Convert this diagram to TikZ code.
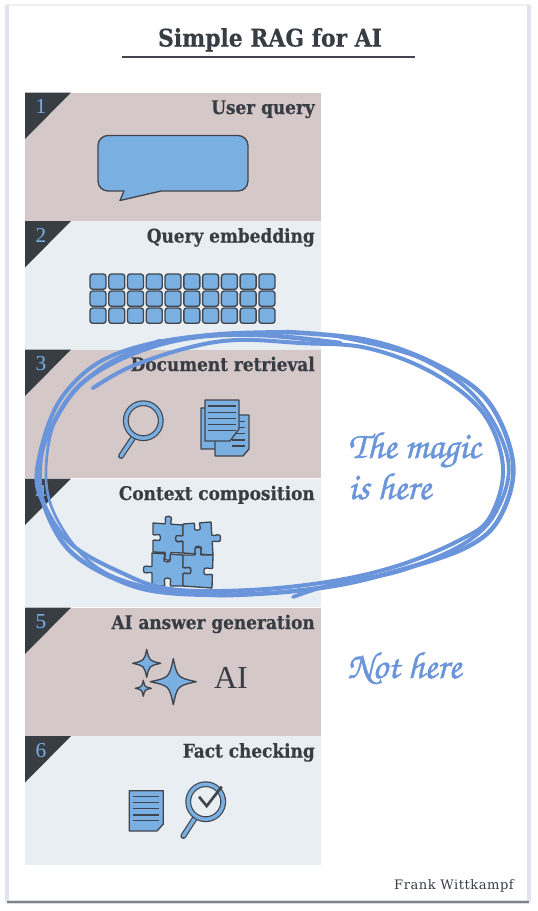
\documentclass[tikz,border=0pt]{standalone}
\usepackage{fontspec}
\usepackage{xcolor}
\usetikzlibrary{calc}
\setmainfont{Liberation Serif}
\newfontfamily\headfont[FakeStretch=0.9,FakeBold=0.5]{DejaVu Serif}
\newfontfamily\creditfont[LetterSpace=4]{DejaVu Serif}
\newfontfamily\handfont[FakeBold=1.2]{texgyrechorus-mediumitalic.otf}
\definecolor{ragdark}{HTML}{383D44}
\definecolor{ragline}{HTML}{41464E}
\definecolor{ragblue}{HTML}{7AAFE2}
\definecolor{ragpen}{HTML}{6A95DA}
\definecolor{ragbrown}{HTML}{D5C8C8}
\definecolor{raglight}{HTML}{E9EEF3}
\definecolor{ragframe}{HTML}{DADEE8}

\begin{document}
\begin{tikzpicture}[
      x=0.75pt, y=-0.75pt,
      panel/.style={minimum width=222pt, minimum height=96.5pt, inner sep=0pt, anchor=north west},
      heading/.style={anchor=base east, inner sep=0pt, text=ragdark,
                      font=\headfont\bfseries\fontsize{14.1}{16}\selectfont},
      number/.style={anchor=base, inner sep=0pt, text=ragblue, font=\fontsize{16}{18}\selectfont},
      icon/.style={draw=ragline, fill=ragblue, line width=1pt, line join=round},
      rule/.style={draw=ragline, line width=0.9pt},
      ring/.style={draw=ragline, double=ragblue, double distance=2.6pt, line width=0.9pt},
      pen/.style={draw=ragpen, line cap=round, line join=round},
      hand/.style={anchor=base west, inner sep=0pt, text=ragpen,
                   font=\handfont\fontsize{28.2}{34}\selectfont},
      knob/.style={to path={
        -- ($(\tikztostart)!.40!(\tikztotarget)$)
        .. controls ($(\tikztostart)!.46!(\tikztotarget)!{#1*.13}!90:(\tikztotarget)$)
           and ($(\tikztostart)!.30!(\tikztotarget)!{#1*.371}!90:(\tikztotarget)$)
        .. ($(\tikztostart)!.5!(\tikztotarget)!{#1*.52}!90:(\tikztotarget)$)
        .. controls ($(\tikztostart)!.70!(\tikztotarget)!{#1*.867}!90:(\tikztotarget)$)
           and ($(\tikztostart)!.54!(\tikztotarget)!{#1*.152}!90:(\tikztotarget)$)
        .. ($(\tikztostart)!.60!(\tikztotarget)$) -- (\tikztotarget)}},
    ]
    \useasboundingbox (0,0) rectangle (537,911);

    % Sheet
    \draw[ragframe!50, line width=2pt] (7,5) -- (529,5);
    \draw[ragframe!85, line width=3pt] (7,5) -- (7,902) (529,5) -- (529,902);
    \draw[ragframe, line width=3pt] (7,902) -- (529,902);
    \draw[ragline!55!ragbrown, line width=1pt] (7,902) -- (529,902);

    % Title
    \node[heading, anchor=base, font=\headfont\bfseries\fontsize{18.2}{20}\selectfont] (title) at (270,46.5) {Simple RAG for AI};
    \draw[ragline, line width=0.8pt] (122,57) -- (415,57);

    % Panels
    \foreach \idx/\ytop/\tone/\stage in {
        1/92.5/ragbrown/User query,
        2/221/raglight/Query embedding,
        3/349.5/ragbrown/Document retrieval,
        4/478.5/raglight/Context composition,
        5/607.5/ragbrown/AI answer generation,
        6/736/raglight/Fact checking} {
      \node[panel, fill=\tone] (panel\idx) at (25,\ytop) {};
      \fill[ragdark] (25,\ytop) -- ++(46,0) -- ++(-46,46.5) -- cycle;
      \node[number] (num\idx) at (41,\ytop+21) {\idx};
      \node[heading] (head\idx) at (315,\ytop+21.5) {\stage};
    }

    % Speech bubble
    \draw[icon, rounded corners=7.5pt] (98,135.5) -- (248,135.5) -- (248,191)
      [sharp corners] -- (161,191) -- (120,200.5) -- (124,191)
      [rounded corners=7.5pt] -- (98,191) -- cycle;

    % Embedding grid
    \foreach \row in {274,291,308} {
      \foreach \col in {0,...,9} {
        \draw[icon, rounded corners=2pt] (90+\col*18.77,\row) rectangle ++(16,15.3);
      }
    }

    % Magnifier and documents
    \draw[ring, line cap=round] (133,438) -- (121,456);
    \draw[ring] (143.3,420.7) circle (17.5);
    \draw[icon] (201,408) -- (231,408) -- (231,440) -- (224,449) -- (201,449) -- cycle;
    \draw[icon] (215,415) -- (249,415) -- (249,449) -- (243,456) -- (215,456) -- cycle;
    \foreach \y in {421.7,427.3,433.3,440,446} {
      \draw[rule] (232,\y) -- (245,\y);
    }
    \draw[icon] (205,400) -- (239,400) -- (239,429) -- (230,441) -- (205,441) -- cycle;
    \foreach \y in {406,412.7,418.3,424.3,430.7} {
      \draw[rule] (208,\y) -- (236,\y);
    }

    % Puzzle
    \draw[icon] (153,523) to[knob=1] (183,525) to[knob=-1] (183,553) to[knob=1] (153,552) to[knob=-1] cycle;
    \draw[icon] (183,524) to[knob=-1] (211,522) to[knob=1] (213,555) to[knob=-1] (183,553) to[knob=1] cycle;
    \draw[icon] (152,553) to[knob=-1] (183,555) to[knob=1] (183,586) to[knob=-1] (152,586) to[knob=1] cycle;
    \draw[icon] (183,555) to[knob=1] (213,555) to[knob=-1] (212,588) -- (183,586) to[knob=-1] cycle;

    % Sparkles
    \foreach \cx/\cy/\rad in {173.3/681.7/23, 146.7/663.3/14, 143.3/688.3/8} {
      \draw[icon] (\cx,\cy-\rad) .. controls (\cx+.18*\rad,\cy-.18*\rad) .. (\cx+\rad,\cy)
        .. controls (\cx+.18*\rad,\cy+.18*\rad) .. (\cx,\cy+\rad)
        .. controls (\cx-.18*\rad,\cy+.18*\rad) .. (\cx-\rad,\cy)
        .. controls (\cx-.18*\rad,\cy-.18*\rad) .. cycle;
    }
    \node[anchor=base, inner sep=0pt, text=ragdark, font=\fontsize{24}{28}\selectfont] (ailabel) at (231,688.5) {AI};

    % Fact check
    \draw[icon] (129.3,790.7) -- (163.3,790.7) -- (163.3,824) -- (157,831) -- (129.3,831) -- cycle;
    \foreach \y in {796.7,802.7,808.7,815,820.7} {
      \draw[rule] (133,\y) -- (159,\y);
    }
    \draw[ring, line cap=round] (195,818) -- (183.3,836);
    \draw[ring] (205.7,801.7) circle (17.5);
    \draw[ragline, line width=2pt] (199,796.7) -- (206.7,806) -- (221.7,786.7);

    % Scribble
    \draw[pen, line width=3pt] plot[smooth, tension=0.6] coordinates {
      (93,388) (130,367) (187,348) (237,340) (300,343) (367,348) (433,373) (483,413) (503,467)
      (490,517) (460,540) (400,565) (333,581) (250,590) (170,589) (120,572) (70,543) (42,500)
      (37,470) (50,420) (70,387) (103,360) (153,343) (220,334) (287,332)};
    \draw[pen, line width=3.4pt] plot[smooth, tension=0.6] coordinates {
      (287,332) (367,340) (433,363) (487,400) (513,463) (500,517) (467,547) (400,570) (333,586)
      (253,594) (170,593) (120,581) (70,551) (44,505) (40,465) (50,430) (80,385) (130,355)
      (190,338) (260,335) (340,343)};
    \draw[pen, line width=2.8pt] plot[smooth, tension=0.6] coordinates {
      (340,337) (420,358) (478,400) (508,460) (497,510) (465,543) (400,571) (340,582) (293,597)};
    \draw[pen, line width=2pt] plot[smooth, tension=0.6] coordinates {
      (160,340) (100,368) (58,415) (46,470) (55,515) (90,562) (140,585) (220,596) (300,590)};

    % Notes
    \node[hand] (magic) at (348,458) {The magic};
    \node[hand] (ishere) at (348,499) {is here};
    \node[hand] (nothere) at (347,678) {Not here};
    \node[anchor=base east, inner sep=0pt, text=ragdark, font=\creditfont\fontsize{9.8}{12}\selectfont] (credit) at (514,889) {Frank Wittkampf};
  \end{tikzpicture}
\end{document}
